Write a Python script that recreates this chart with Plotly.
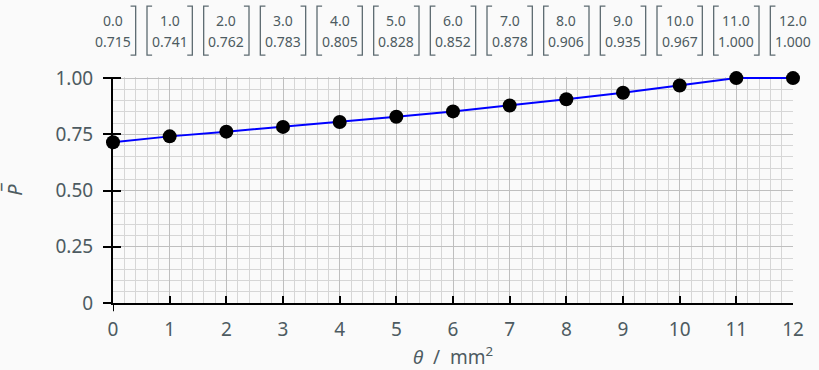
import plotly.graph_objects as go

theta = [0, 1, 2, 3, 4, 5, 6, 7, 8, 9, 10, 11, 12]
p_bar = [0.715, 0.741, 0.762, 0.783, 0.805, 0.828, 0.852, 0.878, 0.906, 0.935, 0.967, 1.000, 1.000]
x_tick_vals = [0, 1, 2, 3, 4, 5, 6, 7, 8, 9, 10, 11, 12]
y_tick_vals = [0, 0.25, 0.5, 0.75, 1.0]
y_tick_text = ["0", "0.25", "0.50", "0.75", "1.00"]

FONT = "Noto Sans"
TXT = "#4d5b61"
BRK = "#5d6b71"
BG = "#fafafa"
YMAX = 1.005

fig = go.Figure()
fig.add_trace(go.Scatter(
    x=theta, y=p_bar, mode="lines+markers",
    line=dict(color="#0000ff", width=2),
    marker=dict(color="black", size=14),
    cliponaxis=False, showlegend=False, hoverinfo="skip"))
fig.add_trace(go.Scatter(x=[0], y=[0], yaxis="y2", mode="markers",
                         marker=dict(opacity=0), showlegend=False, hoverinfo="skip"))

annotations = []
shapes = []
hw = 0.40
serif = 0.09
y_top, y_bot = 1.314, 1.097
y_line1, y_line2 = 1.248, 1.155
for t, p in zip(theta, p_bar):
    for txt, yy in ((f"{t:.1f}", y_line1), (f"{p:.3f}", y_line2)):
        annotations.append(dict(
            x=t, y=yy, xref="x", yref="paper",
            text=txt, showarrow=False,
            font=dict(family=FONT, size=14, color=TXT),
            xanchor="center", yanchor="middle", align="center"))
    xl, xr = t - hw, t + hw
    shapes.append(dict(type="path", xref="x", yref="paper",
                       path=f"M {xl+serif},{y_top} L {xl},{y_top} L {xl},{y_bot} L {xl+serif},{y_bot}",
                       line=dict(color=BRK, width=1.3)))
    shapes.append(dict(type="path", xref="x", yref="paper",
                       path=f"M {xr-serif},{y_top} L {xr},{y_top} L {xr},{y_bot} L {xr-serif},{y_bot}",
                       line=dict(color=BRK, width=1.3)))

shapes.append(dict(type="line", xref="x", yref="paper", x0=0, x1=0, y0=0, y1=-0.036,
                   line=dict(color="black", width=2)))

fig.update_layout(
    width=819, height=370,
    margin=dict(l=113, r=26, t=77, b=67, autoexpand=False),
    paper_bgcolor=BG, plot_bgcolor=BG,
    font=dict(family=FONT, color=TXT, size=19),
    xaxis=dict(range=[0, 12], tickvals=x_tick_vals, ticks="inside", ticklen=7,
               tickcolor="black", tickwidth=1.5, ticklabelstandoff=8,
               showline=True, linecolor="black", linewidth=2, automargin=False,
               showgrid=True, gridcolor="#bfbfbf", gridwidth=1,
               minor=dict(dtick=0.2, showgrid=True, gridcolor="#d6d6d6", gridwidth=1),
               zeroline=False,
               title=dict(text="<i>θ</i>  /  mm<sup>2</sup>", standoff=8,
                          font=dict(size=19, color=TXT)),
               tickfont=dict(size=19, color=TXT)),
    yaxis=dict(range=[0, YMAX], tickvals=y_tick_vals, ticktext=y_tick_text,
               ticks="outside", ticklen=8, tickcolor="black", tickwidth=1.5,
               ticklabelstandoff=6, automargin=False,
               showline=True, linecolor="black", linewidth=2,
               showgrid=True, gridcolor="#bfbfbf", gridwidth=1,
               minor=dict(dtick=0.05, showgrid=True, gridcolor="#d6d6d6", gridwidth=1),
               zeroline=False,
               title=dict(text="<i>P̅</i>", standoff=34, font=dict(size=20, color=TXT)),
               tickfont=dict(size=19, color=TXT)),
    yaxis2=dict(range=[0, YMAX], overlaying="y", side="left", tickvals=y_tick_vals,
                ticks="inside", ticklen=8, tickcolor="black", tickwidth=1.5, automargin=False,
                showticklabels=False, showgrid=False, zeroline=False, showline=False),
    annotations=annotations,
    shapes=shapes,
)

fig.write_html("out.html", config={"displayModeBar": False},
               post_script="document.body.style.margin='0';")
